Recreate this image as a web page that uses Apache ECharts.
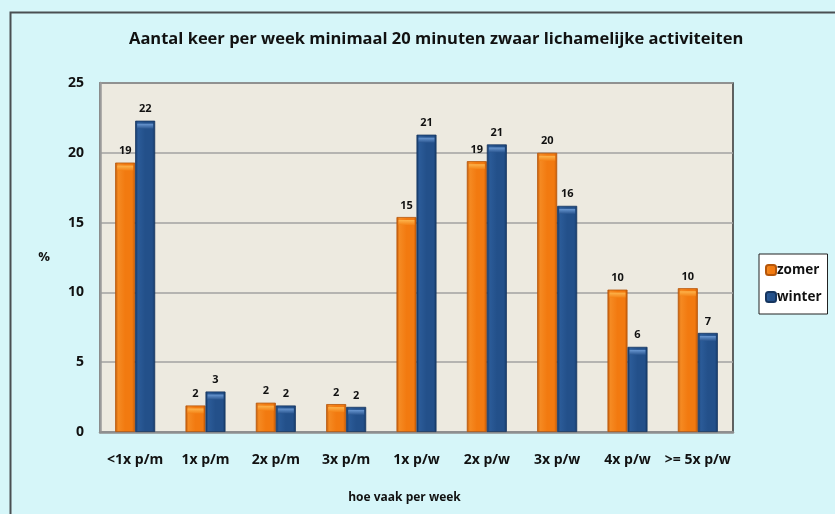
<!DOCTYPE html>
<html>
<head>
<meta charset="utf-8">
<script src="https://cdn.jsdelivr.net/npm/echarts@6/dist/echarts.min.js"></script>
<style>
  html, body { margin: 0; padding: 0; background: #d6f6f9; }
  #main { width: 835px; height: 514px; }
</style>
</head>
<body>
<div id="main"></div>
<script>
  // categorieën op de x-as
  var categories = ['<1x p/m', '1x p/m', '2x p/m', '3x p/m', '1x p/w', '2x p/w', '3x p/w', '4x p/w', '>= 5x p/w'];
  var zomer = [19.3, 1.9, 2.1, 2.0, 15.4, 19.4, 20.0, 10.2, 10.3];
  var winter = [22.3, 2.9, 1.9, 1.8, 21.3, 20.6, 16.2, 6.1, 7.1];
  var seriesNames = ['zomer', 'winter'];
  var yTicks = [0, 5, 10, 15, 20, 25];

  var fontFamily = '"Open Sans", Lato, sans-serif';

  // cilinder-effect: horizontale gradient
  function cylinder(edge, mid, light) {
    return new echarts.graphic.LinearGradient(0, 0, 1, 0, [
      { offset: 0, color: edge },
      { offset: 0.15, color: light },
      { offset: 0.5, color: mid },
      { offset: 0.85, color: mid },
      { offset: 1, color: edge }
    ]);
  }
  var orange = cylinder('#c25a08', '#f27a10', '#f58a22');
  var blue = cylinder('#163a68', '#23508a', '#2b5b98');

  // kapje bovenop de staaf
  function cap(top, bottom) {
    return new echarts.graphic.LinearGradient(0, 0, 0, 1, [
      { offset: 0, color: top },
      { offset: 1, color: bottom }
    ]);
  }

  var label = {
    show: true,
    position: 'top',
    distance: 6,
    color: '#111',
    fontFamily: fontFamily,
    fontWeight: 'bold',
    fontSize: 11,
    formatter: function (p) { return Math.round(p.value); }
  };

  var chart = echarts.init(document.getElementById('main'));

  var option = {
    backgroundColor: '#d6f6f9',
    animation: false,
    // buitenrand
    graphic: [{
      type: 'rect',
      left: 8,
      top: 10,
      shape: { width: 900, height: 600 },
      style: { fill: 'none', stroke: '#4a4f52', lineWidth: 2 },
      silent: true
    }],
    title: {
      text: 'Aantal keer per week minimaal 20 minuten zwaar lichamelijke activiteiten',
      left: 124,
      top: 26,
      textStyle: {
        color: '#111',
        fontFamily: fontFamily,
        fontWeight: 'bold',
        fontSize: 16.5
      }
    },
    legend: {
      data: seriesNames,
      orient: 'vertical',
      left: 759,
      top: 254,
      padding: [9, 6, 10, 6],
      itemGap: 13,
      itemWidth: 10,
      itemHeight: 10,
      backgroundColor: '#ffffff',
      borderColor: '#222',
      borderWidth: 1,
      borderRadius: 0,
      textStyle: {
        color: '#111',
        fontFamily: fontFamily,
        fontWeight: 'bold',
        fontSize: 13.5,
        padding: [0, 0, 0, -4]
      }
    },
    grid: {
      left: 100,
      top: 83,
      right: 102,
      bottom: 82,
      show: true,
      backgroundColor: '#edeae0',
      borderColor: '#333',
      borderWidth: 1.5
    },
    xAxis: {
      type: 'category',
      data: categories,
      name: 'hoe vaak per week',
      nameLocation: 'middle',
      nameGap: 60,
      nameTextStyle: {
        color: '#111',
        fontFamily: fontFamily,
        fontWeight: 'bold',
        fontSize: 12,
        padding: [0, 24, 0, 0]
      },
      axisLine: { lineStyle: { color: '#8f8f8f', width: 2.5 } },
      axisTick: { show: false },
      axisLabel: {
        color: '#111',
        fontFamily: fontFamily,
        fontWeight: 'bold',
        fontSize: 14,
        margin: 21,
        interval: 0
      }
    },
    yAxis: {
      type: 'value',
      min: yTicks[0],
      max: yTicks[yTicks.length - 1],
      interval: 5,
      name: '%',
      nameLocation: 'middle',
      nameRotate: 0,
      nameGap: 50,
      nameTextStyle: {
        color: '#111',
        fontFamily: fontFamily,
        fontWeight: 'bold',
        fontSize: 13
      },
      axisLine: { show: true, lineStyle: { color: '#9a9a9a', width: 2.5 } },
      axisTick: { show: false },
      splitLine: { lineStyle: { color: '#a2a2a2', width: 1.5 } },
      axisLabel: {
        color: '#111',
        fontFamily: fontFamily,
        fontWeight: 'bold',
        fontSize: 14,
        margin: 16
      }
    },
    series: [
      {
        name: 'zomer',
        type: 'bar',
        data: zomer,
        barWidth: 20,
        barGap: '0%',
        barCategoryGap: '43%',
        itemStyle: { color: orange, borderColor: '#b5560a', borderWidth: 0.8 },
        label: label
      },
      {
        name: 'winter',
        type: 'bar',
        data: winter,
        barWidth: 20,
        barGap: '0%',
        barCategoryGap: '43%',
        itemStyle: { color: blue, borderColor: '#15355f', borderWidth: 0.8 },
        label: label
      },
      {
        name: 'zomer-kap',
        type: 'pictorialBar',
        data: zomer,
        barWidth: 20,
        barGap: '0%',
        barCategoryGap: '43%',
        symbol: 'rect',
        symbolSize: [16, 5],
        symbolPosition: 'end',
        symbolOffset: [0, '60%'],
        itemStyle: { color: cap('#fdb44c', '#f48216') },
        silent: true,
        z: 3
      },
      {
        name: 'winter-kap',
        type: 'pictorialBar',
        data: winter,
        barWidth: 20,
        barGap: '0%',
        barCategoryGap: '43%',
        symbol: 'rect',
        symbolSize: [16, 5],
        symbolPosition: 'end',
        symbolOffset: [0, '60%'],
        itemStyle: { color: cap('#6a98d2', '#2a5690') },
        silent: true,
        z: 3
      }
    ]
  };

  chart.setOption(option);
</script>
</body>
</html>
